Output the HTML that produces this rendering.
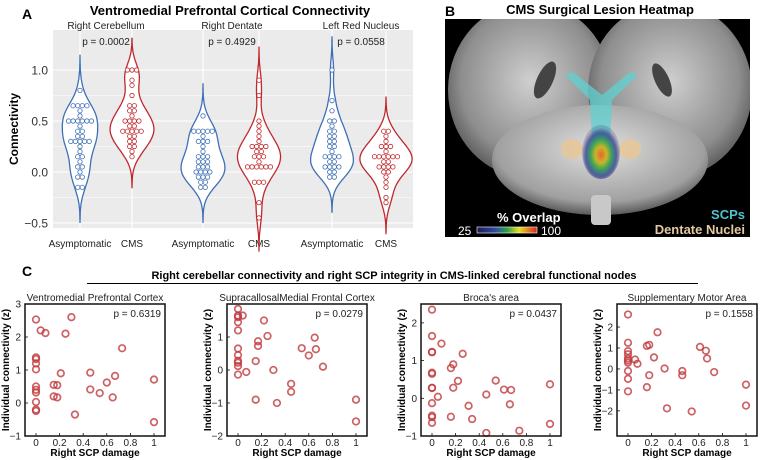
<!DOCTYPE html>
<html><head><meta charset="utf-8"><style>
body{margin:0;background:#fff;}
svg{display:block;font-family:"Liberation Sans",Arial,sans-serif;}
</style></head><body>
<svg id="fig" width="764" height="460" viewBox="0 0 764 460" xmlns="http://www.w3.org/2000/svg">
<defs>
<clipPath id="bclip"><rect x="445" y="19" width="305" height="218"/></clipPath>
<radialGradient id="brainL" cx="50%" cy="45%" r="60%"><stop offset="0" stop-color="#cfcfcf"/><stop offset="0.7" stop-color="#8e8e8e"/><stop offset="1" stop-color="#4a4a4a"/></radialGradient>
<radialGradient id="cereb" cx="50%" cy="40%" r="60%"><stop offset="0" stop-color="#e0e0e0"/><stop offset="0.8" stop-color="#a0a0a0"/><stop offset="1" stop-color="#5a5a5a"/></radialGradient>
<radialGradient id="heat" cx="50%" cy="55%" r="50%"><stop offset="0" stop-color="#e8662a"/><stop offset="0.3" stop-color="#c7b52a"/><stop offset="0.55" stop-color="#3aa35a"/><stop offset="0.8" stop-color="#3a4a9a" stop-opacity="0.85"/><stop offset="1" stop-color="#2a2a6a" stop-opacity="0.2"/></radialGradient>
<linearGradient id="cbar" x1="0" x2="1"><stop offset="0" stop-color="#1a1a5a"/><stop offset="0.3" stop-color="#2d4aa0"/><stop offset="0.5" stop-color="#2aa04a"/><stop offset="0.7" stop-color="#e8e020"/><stop offset="1" stop-color="#e02020"/></linearGradient>
</defs>
<g id="panelA"></g>
<g id="panelB">
  <text x="445" y="16" font-size="14" font-weight="bold">B</text>
  <text x="600" y="14" font-size="13" font-weight="bold" text-anchor="middle">CMS Surgical Lesion Heatmap</text>
  <rect x="445" y="19" width="305" height="218" fill="#000"/>
  <g clip-path="url(#bclip)">
    <ellipse cx="530" cy="90" rx="82" ry="88" fill="url(#brainL)"/>
    <ellipse cx="670" cy="90" rx="82" ry="88" fill="url(#brainL)"/>
    <ellipse cx="545" cy="80" rx="8" ry="20" fill="#444" transform="rotate(25 545 80)"/>
    <ellipse cx="662" cy="80" rx="7" ry="18" fill="#444" transform="rotate(-25 662 80)"/>
    <ellipse cx="600" cy="160" rx="108" ry="55" fill="url(#cereb)"/>
    <rect x="591" y="195" width="20" height="30" rx="4" fill="#c8c8c8"/>
    <path d="M565 75 L590 100 L592 140 L610 140 L612 100 L638 75 L630 72 L602 95 L573 72 Z" fill="#5fd0d0" opacity="0.75"/>
    <ellipse cx="572" cy="149" rx="11" ry="10" fill="#e6c79a" opacity="0.9"/>
    <ellipse cx="630" cy="149" rx="11" ry="10" fill="#e6c79a" opacity="0.9"/>
    <ellipse cx="601" cy="152" rx="19" ry="27" fill="url(#heat)"/>
  </g>
  <text x="497" y="222" font-size="13" font-weight="bold" fill="#fff">% Overlap</text>
  <text x="458" y="235" font-size="12" fill="#fff">25</text>
  <rect x="477" y="227" width="60" height="6" fill="url(#cbar)" stroke="#fff" stroke-width="0.6"/>
  <text x="541" y="235" font-size="12" fill="#fff">100</text>
  <text x="745" y="219" font-size="13" font-weight="bold" fill="#4fc3cf" text-anchor="end">SCPs</text>
  <text x="745" y="234" font-size="13" font-weight="bold" fill="#e3c9a0" text-anchor="end">Dentate Nuclei</text>
</g>
<g id="panelC">
  <text x="22" y="276" font-size="14" font-weight="bold">C</text>
  <text x="394" y="279" font-size="11" font-weight="bold" text-anchor="middle">Right cerebellar connectivity and right SCP integrity in CMS-linked cerebral functional nodes</text>
  <line x1="87" y1="283.5" x2="698" y2="283.5" stroke="#000" stroke-width="1"/>
</g>
</svg>
<script>
// ---------- Panel A data ----------
const groupNames = ["Right Cerebellum","Right Dentate","Left Red Nucleus"];
const groupPvals = ["p = 0.0002","p = 0.4929","p = 0.0558"];
const violinCats = ["Asymptomatic","CMS","Asymptomatic","CMS","Asymptomatic","CMS"];
const yTicksA = [-0.5,0.0,0.5,1.0];
const yTickLabelsA = ["\u22120.5","0.0","0.5","1.0"];
const rcAsym = [0.82,0.67,0.67,0.63,0.63,0.6,0.55,0.52,0.52,0.52,0.52,0.48,0.48,0.45,0.41,0.41,0.37,0.34,0.3,0.3,0.3,0.3,0.3,0.27,0.2,0.17,0.13,0.1,0.06,0.03,0.0,-0.03,-0.06,-0.13,-0.17];
const rcCms = [0.98,0.98,0.98,0.9,0.87,0.74,0.67,0.63,0.6,0.6,0.55,0.52,0.5,0.5,0.48,0.45,0.45,0.41,0.41,0.38,0.38,0.38,0.35,0.35,0.3,0.3,0.24,0.24,0.2,0.17];
const rdAsym = [0.54,0.42,0.42,0.42,0.42,0.38,0.34,0.31,0.28,0.28,0.24,0.2,0.17,0.14,0.14,0.1,0.1,0.1,0.07,0.07,0.03,0.0,0.0,0.0,0.0,-0.03,-0.06,-0.06,-0.08,-0.1,-0.13,-0.17];
const rdCms = [0.9,0.74,0.48,0.45,0.38,0.34,0.3,0.27,0.24,0.24,0.24,0.2,0.2,0.17,0.14,0.14,0.1,0.07,0.07,0.04,0.04,0.04,0.04,-0.1,-0.1,-0.1,-0.3,-0.45];
const lrnAsym = [1.0,0.72,0.62,0.52,0.48,0.45,0.41,0.38,0.34,0.34,0.31,0.28,0.24,0.24,0.2,0.17,0.14,0.14,0.14,0.1,0.1,0.07,0.07,0.04,0.04,0.0,0.0,-0.03,-0.07];
const lrnCms = [0.41,0.38,0.34,0.28,0.26,0.24,0.24,0.21,0.17,0.17,0.14,0.14,0.14,0.14,0.1,0.1,0.07,0.07,0.04,0.04,0.0,0.0,-0.03,-0.12,-0.17,-0.25,-0.28];

// ---------- Panel C data ----------
const scatterTitles = ["Ventromedial Prefrontal Cortex","SupracallosalMedial Frontal Cortex","Broca's area","Supplementary Motor Area"];
const scatterPvals = ["p = 0.6319","p = 0.0279","p = 0.0437","p = 0.1558"];
const xTicksC = [0,0.2,0.4,0.6,0.8,1];
const xTickLabelsC = ["0","0.2","0.4","0.6","0.8","1"];
const yTicks1 = [-1,0,1,2,3];
const yTicks2 = [-2,-1,0,1];
const yTicks3 = [-1,0,1,2];
const yTicks4 = [-2,-1,0,1,2];
const damage1 = [0,0.04,0.08,0.3,0.25,0.73,0,0,0,0,0,0,0,0,0,0,0.21,0.46,0.15,0.18,0.15,0.18,0.46,0.54,0.6,0.67,0.65,0.33,1,1];
const conn1 = [2.53,2.2,2.12,2.6,2.1,1.66,1.38,1.33,1.2,1.02,0.5,0.4,0.32,0.03,-0.2,-0.24,0.9,0.92,0.55,0.54,0.2,0.17,0.41,0.3,0.62,0.82,0.17,-0.35,0.71,-0.58];
const damage2 = [0,0,0,0.04,0,0,0.22,0,0,0,0,0,0,0.07,0.17,0.17,0.25,0.15,0.3,0.54,0.6,0.65,0.66,0.72,0.45,0.45,0.15,0.33,1,1];
const conn2 = [1.85,1.65,1.6,1.65,1.45,1.2,1.5,0.65,0.45,0.28,0.22,0.12,-0.14,-0.06,0.87,0.73,1.03,0.27,0.0,0.66,0.44,0.98,0.63,0.1,-0.42,-0.66,-0.9,-1.0,-0.9,-1.56];
const damage3 = [0,0,0,0,0.08,0.26,0.18,0.16,0,0,0,0,0.18,0.22,0.05,0,0,0,0,0.16,0.31,0.34,0.46,0.54,0.61,0.67,0.66,0.46,0.74,1,1];
const conn3 = [2.35,1.65,1.23,1.22,1.45,1.18,0.9,0.8,0.68,0.65,0.28,0.27,0.28,0.46,0.04,-0.13,-0.46,-0.5,-0.65,-0.49,-0.2,-0.55,0.1,0.47,0.23,0.22,-0.16,-0.92,-0.86,0.37,-0.68];
const damage4 = [0,0,0,0,0,0,0,0.06,0.08,0,0,0,0.16,0.18,0.25,0.22,0.18,0.16,0.31,0.33,0.46,0.46,0.54,0.61,0.66,0.67,0.73,1,1];
const conn4 = [2.6,1.25,0.85,0.7,0.5,0.4,0.3,0.45,0.25,-0.1,-0.47,-1.07,1.1,1.15,1.75,0.55,-0.3,-0.87,0.02,-1.88,-0.1,-0.3,-2.03,1.05,0.87,0.5,-0.15,-0.75,-1.75];

const NS = "http://www.w3.org/2000/svg";
function mk(tag, attrs, parent, txt){
  const e = document.createElementNS(NS, tag);
  for (const k in attrs) e.setAttribute(k, attrs[k]);
  if (txt !== undefined) e.textContent = txt;
  parent.appendChild(e); return e;
}

// ---------- Panel A ----------
(function(){
  const g = document.getElementById('panelA');
  const L=53, R=413, T=30, B=228;
  const yA = v => 172 - v*102;
  const catX = [80,132,203,259,332,386];
  const groupX = [106,232,361];
  const sets = [rcAsym, rcCms, rdAsym, rdCms, lrnAsym, lrnCms];
  let t = mk('text',{x:22,y:19,'font-size':14,'font-weight':'bold'},g,'A');
  
  
  t = mk('text',{x:230,y:15,'font-size':13,'font-weight':'bold','text-anchor':'middle'},g,'Ventromedial Prefrontal Cortical Connectivity');
  
  
  const bg = mk('rect',{x:L,y:T,width:R-L,height:B-T,fill:'#ebebeb'},g);
  
  
  [-0.25,0.25,0.75].forEach(v=>{
    const l = mk('line',{x1:L,x2:R,y1:yA(v),y2:yA(v),stroke:'#fff','stroke-width':0.6},g);
    
    
  });
  yTicksA.forEach((v,i)=>{
    const l = mk('line',{x1:L,x2:R,y1:yA(v),y2:yA(v),stroke:'#fff','stroke-width':1.1},g);
    
    
    const tl = mk('text',{x:L-5,y:yA(v)+4.5,'font-size':12,'text-anchor':'end',fill:'#333'},g,yTickLabelsA[i]);
    
    
  });
  catX.forEach((x,i)=>{
    const l = mk('line',{x1:x,x2:x,y1:T,y2:B,stroke:'#fff','stroke-width':1.1},g);
    
    
    const tl = mk('text',{x:x,y:247,'font-size':10,'text-anchor':'middle',fill:'#222'},g,violinCats[i]);
    
    
  });
  t = mk('text',{x:0,y:0,'font-size':12,'font-weight':'bold','text-anchor':'middle',transform:'translate(18,129) rotate(-90)'},g,'Connectivity');
  
  
  groupX.forEach((x,i)=>{
    const a = mk('text',{x:x,y:29,'font-size':10,'text-anchor':'middle',fill:'#222'},g,groupNames[i]);
    
    
    const p = mk('text',{x:x,y:45,'font-size':10,'text-anchor':'middle',fill:'#222'},g,groupPvals[i]);
    
    
  });
  const bw = 0.11;
  sets.forEach((vals,i)=>{
    const col = i%2===0 ? '#3f6fb5' : '#c0282d';
    const mn = Math.min(...vals)-3*bw, mx = Math.max(...vals)+3*bw;
    const steps = 80, dens=[];
    for(let s=0;s<=steps;s++){
      const y = mn + (mx-mn)*s/steps;
      let d=0; vals.forEach(v=>{d+=Math.exp(-0.5*((y-v)/bw)**2);});
      dens.push([y,d/(vals.length*bw*Math.sqrt(2*Math.PI))]);
    }
    const scale = 12.5;
    let path = '';
    dens.forEach(([y,d],k)=>{path += (k?'L':'M')+(catX[i]+d*scale).toFixed(1)+' '+yA(y).toFixed(1);});
    for(let k=dens.length-1;k>=0;k--){path += 'L'+(catX[i]-dens[k][1]*scale).toFixed(1)+' '+yA(dens[k][0]).toFixed(1);}
    path+='Z';
    const v = mk('path',{d:path,fill:'#fff',stroke:col,'stroke-width':1.3},g);
    
    
    const bins = {};
    vals.forEach(val=>{const b=Math.round(val/0.05); (bins[b]=bins[b]||[]).push(val);});
    Object.keys(bins).forEach(b=>{
      const n = bins[b].length;
      bins[b].forEach((val,j)=>{
        const cx = catX[i] + (j-(n-1)/2)*4.6;
        const c = mk('circle',{cx:cx,cy:yA(b*0.05),r:2.2,fill:'#fff',stroke:col,'stroke-width':0.8},g);
        
        
      });
    });
  });
})();

// ---------- Panel C ----------
(function(){
  const g = document.getElementById('panelC');
  const lefts = [25,227,421,617];
  const T=304, B=436, W=140;
  const xs = [damage1,damage2,damage3,damage4];
  const ys = [conn1,conn2,conn3,conn4];
  const yt = [yTicks1,yTicks2,yTicks3,yTicks4];
  const ydom = [[-1,3],[-2,2],[-1,2.5],[-3.2,3.1]];
  lefts.forEach((L,p)=>{
    const sx = v => L + 11 + v*118;
    const sy = v => B - (v-ydom[p][0])/(ydom[p][1]-ydom[p][0])*(B-T);
    const t = mk('text',{x:L+W/2,y:301,'font-size':10,'text-anchor':'middle',fill:'#222'},g,scatterTitles[p]);
    
    
    xs[p].forEach((xv,k)=>{
      const c = mk('circle',{cx:sx(xv),cy:sy(ys[p][k]),r:3.3,fill:'none',stroke:'#c0393d','stroke-width':1.7,'stroke-opacity':0.8},g);
      
      
    });
    const box = mk('rect',{x:L,y:T,width:W,height:B-T,fill:'none',stroke:'#111','stroke-width':1.5},g);
    
    
    const pv = mk('text',{x:L+W-4,y:T+13,'font-size':10,'text-anchor':'end',fill:'#222'},g,scatterPvals[p]);
    
    
    xTicksC.forEach((v,i)=>{
      const tk = mk('line',{x1:sx(v),x2:sx(v),y1:B,y2:B-3,stroke:'#111','stroke-width':0.8},g);
      
      
      const tl = mk('text',{x:sx(v),y:B+10,'font-size':10,'text-anchor':'middle',fill:'#222'},g,xTickLabelsC[i]);
      
      
    });
    yt[p].forEach(v=>{
      const tk = mk('line',{x1:L,x2:L+3,y1:sy(v),y2:sy(v),stroke:'#111','stroke-width':0.8},g);
      
      
      const tl = mk('text',{x:L-4,y:sy(v)+3.5,'font-size':10,'text-anchor':'end',fill:'#222'},g,v<0?'\u2212'+(-v):String(v));
      
      
    });
    const xt = mk('text',{x:L+W/2,y:456,'font-size':10,'font-weight':'bold','text-anchor':'middle'},g,'Right SCP damage');
    
    
    const ytl = mk('text',{x:0,y:0,'font-size':10,'font-weight':'bold','text-anchor':'middle',transform:'translate('+(L-16)+','+((T+B)/2)+') rotate(-90)'},g,'Individual connectivity (z)');
    
    
  });
})();
</script>
</body></html>
